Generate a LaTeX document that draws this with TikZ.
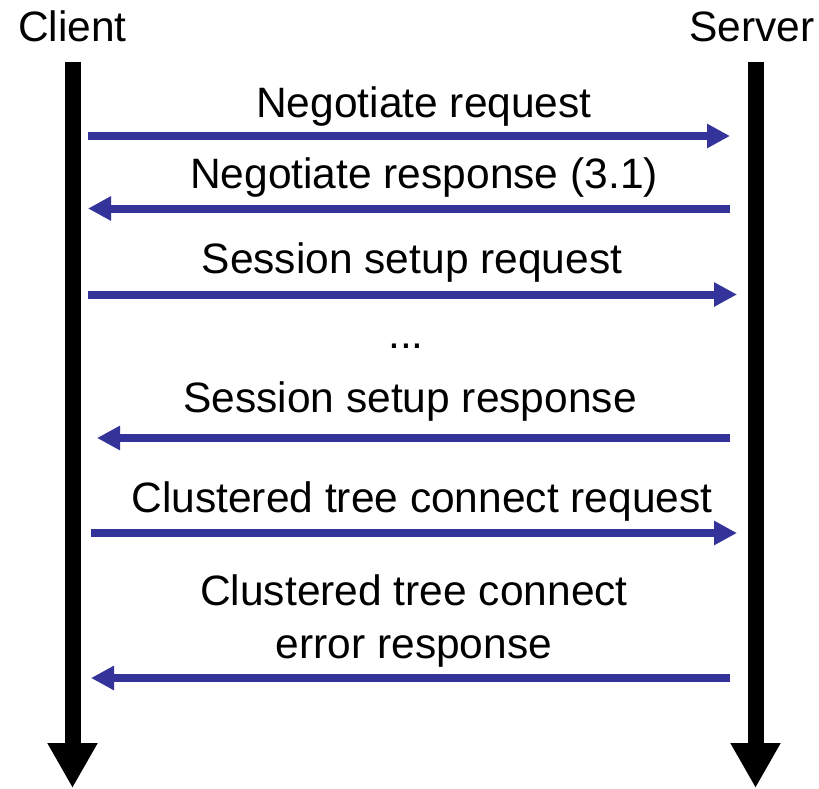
\documentclass[tikz,border=0pt]{standalone}
\usepackage{fontspec}
\setmainfont{Liberation Sans}
\usetikzlibrary{positioning, arrows.meta}
\definecolor{msgcolor}{RGB}{51,51,153}
\definecolor{lifecolor}{RGB}{0,0,0}

\begin{document}
\begin{tikzpicture}[x=1pt, y=-1pt,
    lifeline/.style={-{Triangle[width=47pt, length=45pt]}, line width=16pt, lifecolor},
    msg/.style={-{Triangle[width=23pt, length=23pt]}, line width=8pt, msgcolor},
    lbl/.style={anchor=base, inner sep=0pt, font=\fontsize{42.5}{53}\selectfont, align=center}
]
    \useasboundingbox (0, 0) rectangle (819, 789);

    % === LIGNES DE VIE ===
    \node[lbl] (client) at (72.5, 42) {Client};
    \node[lbl] (server) at (752, 42) {Server};
    \coordinate (cltop) at (72.5, 62);
    \coordinate (clbot) at (72.5, 788);
    \coordinate (svtop) at (755.5, 62);
    \coordinate (svbot) at (755.5, 788);
    \draw[lifeline] (cltop) -- (clbot);
    \draw[lifeline] (svtop) -- (svbot);

    % === NEGOTIATE ===
    \coordinate (c1) at (88, 136);
    \coordinate (s1) at (730, 136);
    \draw[msg] (c1) -- (s1);
    \node[lbl] (m1) at (424, 118) {Negotiate request};

    \coordinate (s2) at (730, 208.5);
    \coordinate (c2) at (88, 208.5);
    \draw[msg] (s2) -- (c2);
    \node[lbl] (m2) at (424, 188) {Negotiate response (3.1)};

    % === SESSION SETUP ===
    \coordinate (c3) at (88, 294.5);
    \coordinate (s3) at (737, 294.5);
    \draw[msg] (c3) -- (s3);
    \node[lbl] (m3) at (412, 273) {Session setup request};

    \node[lbl] (dots) at (406, 348) {...};

    \coordinate (s4) at (730, 438);
    \coordinate (c4) at (97, 438);
    \draw[msg] (s4) -- (c4);
    \node[lbl] (m4) at (410, 412) {Session setup response};

    % === TREE CONNECT ===
    \coordinate (c5) at (91, 533);
    \coordinate (s5) at (737, 533);
    \draw[msg] (c5) -- (s5);
    \node[lbl] (m5) at (422, 512) {Clustered tree connect request};

    \coordinate (s6) at (730, 678);
    \coordinate (c6) at (91, 678);
    \draw[msg] (s6) -- (c6);
    \node[lbl] (m6) at (414, 658) {Clustered tree connect\\error response};

\end{tikzpicture}
\end{document}
